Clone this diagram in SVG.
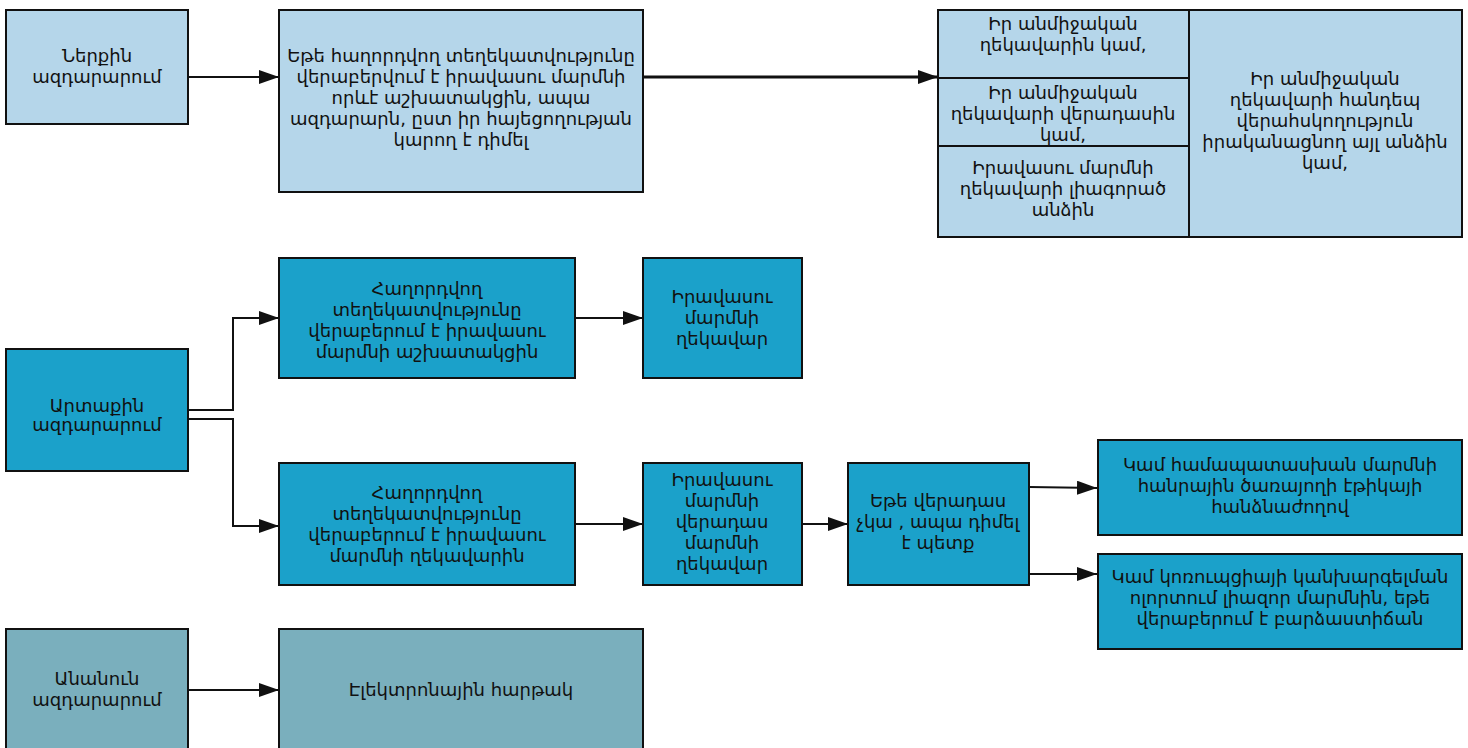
<svg xmlns="http://www.w3.org/2000/svg" width="1468" height="748" viewBox="0 0 1468 748">
<style>
.n rect{stroke:#111;stroke-width:2}
.light{fill:#b5d6ea}
.mid{fill:#1ba1ca}
.grey{fill:#7aafbd}
text{font-family:"DejaVu Sans",sans-serif;font-size:18px;fill:#111;text-anchor:middle}
.c path{fill:none;stroke:#111;stroke-width:2}
.c .thick{stroke-width:3}
</style>
<defs>
<marker id="ah" markerUnits="userSpaceOnUse" markerWidth="20" markerHeight="14" refX="20" refY="7" orient="auto">
<path d="M0,0 L20,7 L0,14 Z" fill="#111"/>
</marker>
</defs>
<rect width="1468" height="748" fill="#fff"/>
<g class="c">
<path d="M188,77 H279" marker-end="url(#ah)"/>
<path class="thick" d="M643,77 H938" marker-end="url(#ah)"/>
<path d="M188,410 H233 V318 H279" marker-end="url(#ah)"/>
<path d="M188,419 H233 V526 H279" marker-end="url(#ah)"/>
<path d="M575,318 H643" marker-end="url(#ah)"/>
<path d="M575,524 H643" marker-end="url(#ah)"/>
<path d="M802,524 H848" marker-end="url(#ah)"/>
<path d="M1029,487 L1097,488" marker-end="url(#ah)"/>
<path d="M1029,574 H1097" marker-end="url(#ah)"/>
<path d="M188,690 H279" marker-end="url(#ah)"/>
</g>
<g id="internal" class="n">
<rect class="light" x="6" y="10" width="182" height="114"/>
<text x="97" y="62">Ներքին</text>
<text x="97" y="83">ազդարարում</text>
</g>
<g id="internal-detail" class="n">
<rect class="light" x="279" y="10" width="364" height="182"/>
<text x="461" y="62">Եթե հաղորդվող տեղեկատվությունը</text>
<text x="461" y="83">վերաբերվում է իրավասու մարմնի</text>
<text x="461" y="104">որևէ աշխատակցին, ապա</text>
<text x="461" y="125">ազդարարն, ըստ իր հայեցողության</text>
<text x="461" y="146">կարող է դիմել</text>
</g>
<g id="internal-targets" class="n">
<rect class="light" x="938" y="10" width="524" height="227"/>
<path d="M1189,10 V237 M938,78 H1189 M938,146 H1189" stroke="#111" stroke-width="2" fill="none"/>
<text x="1063" y="30">Իր անմիջական</text>
<text x="1063" y="51">ղեկավարին կամ,</text>
<text x="1063" y="99">Իր անմիջական</text>
<text x="1063" y="120">ղեկավարի վերադասին</text>
<text x="1063" y="141">կամ,</text>
<text x="1063" y="174">Իրավասու մարմնի</text>
<text x="1063" y="195">ղեկավարի լիագորած</text>
<text x="1063" y="216">անձին</text>
<text x="1325" y="85">Իր անմիջական</text>
<text x="1325" y="106">ղեկավարի հանդեպ</text>
<text x="1325" y="127">վերահսկողություն</text>
<text x="1325" y="148">իրականացնող այլ անձին</text>
<text x="1325" y="169">կամ,</text>
</g>
<g id="external" class="n">
<rect class="mid" x="6" y="349" width="182" height="122"/>
<text x="97" y="412">Արտաքին</text>
<text x="97" y="431">ազդարարում</text>
</g>
<g id="ext-employee" class="n">
<rect class="mid" x="279" y="258" width="296" height="120"/>
<text x="427" y="295">Հաղորդվող</text>
<text x="427" y="316">տեղեկատվությունը</text>
<text x="427" y="337">վերաբերում է իրավասու</text>
<text x="427" y="358">մարմնի աշխատակցին</text>
</g>
<g id="ext-head" class="n">
<rect class="mid" x="643" y="258" width="159" height="120"/>
<text x="722" y="303">Իրավասու</text>
<text x="722" y="324">մարմնի</text>
<text x="722" y="345">ղեկավար</text>
</g>
<g id="ext-manager" class="n">
<rect class="mid" x="279" y="463" width="296" height="122"/>
<text x="427" y="499">Հաղորդվող</text>
<text x="427" y="520">տեղեկատվությունը</text>
<text x="427" y="541">վերաբերում է իրավասու</text>
<text x="427" y="562">մարմնի ղեկավարին</text>
</g>
<g id="ext-superior" class="n">
<rect class="mid" x="643" y="463" width="159" height="122"/>
<text x="722" y="486">Իրավասու</text>
<text x="722" y="507">մարմնի</text>
<text x="722" y="528">վերադաս</text>
<text x="722" y="549">մարմնի</text>
<text x="722" y="570">ղեկավար</text>
</g>
<g id="ext-none" class="n">
<rect class="mid" x="848" y="463" width="181" height="122"/>
<text x="938" y="507">Եթե վերադաս</text>
<text x="938" y="528">չկա , ապա դիմել</text>
<text x="938" y="549">է պետք</text>
</g>
<g id="ext-ethics" class="n">
<rect class="mid" x="1098" y="440" width="364" height="95"/>
<text x="1280" y="471">Կամ համապատասխան մարմնի</text>
<text x="1280" y="492">հանրային ծառայողի էթիկայի</text>
<text x="1280" y="513">հանձնաժողով</text>
</g>
<g id="ext-corruption" class="n">
<rect class="mid" x="1098" y="554" width="364" height="95"/>
<text x="1280" y="583">Կամ կոռուպցիայի կանխարգելման</text>
<text x="1280" y="604">ոլորտում լիազոր մարմնին, եթե</text>
<text x="1280" y="625">վերաբերում է բարձաստիճան</text>
</g>
<g id="anonymous" class="n">
<rect class="grey" x="6" y="629" width="182" height="130"/>
<text x="97" y="685">Անանուն</text>
<text x="97" y="706">ազդարարում</text>
</g>
<g id="anon-platform" class="n">
<rect class="grey" x="279" y="629" width="364" height="130"/>
<text x="461" y="696">Էլեկտրոնային հարթակ</text>
</g>
</svg>
